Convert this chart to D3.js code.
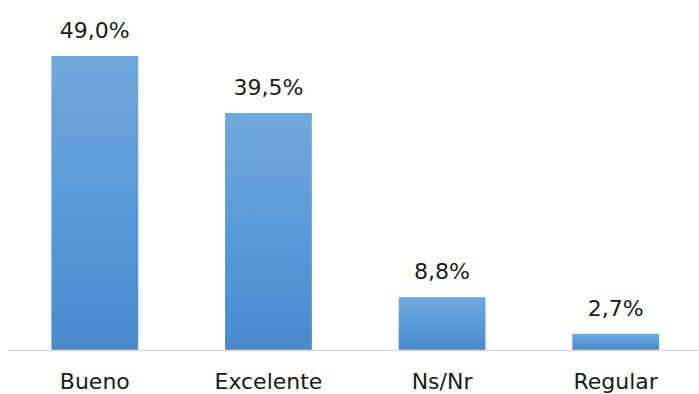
<!DOCTYPE html>
<html><head><meta charset="utf-8">
<script src="https://cdn.jsdelivr.net/npm/d3@7"></script>
<style>body{margin:0;background:#fff}svg{display:block}</style>
</head><body>
<svg id="c" width="699" height="394"></svg>
<script>
const categories = ["Bueno", "Excelente", "Ns/Nr", "Regular"];
const values = [49.0, 39.5, 8.8, 2.7];
const valueLabels = ["49,0%", "39,5%", "8,8%", "2,7%"];

const svg = d3.select("#c");
const font = "'DejaVu Sans', sans-serif";
const base = 350;
const x = d3.scaleBand().domain(categories).range([8, 702.5]).paddingInner(0.5).paddingOuter(0.25);
const y = d3.scaleLinear().domain([0, 49]).range([base, 56]);

const defs = svg.append("defs");
const g = defs.append("linearGradient").attr("id","bg").attr("x1",0).attr("y1",0).attr("x2",0).attr("y2",1);
g.append("stop").attr("offset","0%").attr("stop-color","#72a8dd");
g.append("stop").attr("offset","50%").attr("stop-color","#5a9ad9");
g.append("stop").attr("offset","100%").attr("stop-color","#4a8acd");

svg.selectAll("rect.bar").data(values).enter().append("rect")
  .attr("class","bar")
  .attr("x",(d,i)=>x(categories[i]))
  .attr("width",x.bandwidth())
  .attr("y",d=>y(d))
  .attr("height",d=>base-y(d))
  .attr("fill","url(#bg)");

svg.append("line").attr("x1",8).attr("x2",699).attr("y1",base+0.5).attr("y2",base+0.5)
  .attr("stroke","#d9d9d9").attr("stroke-width",1.5);

svg.selectAll("text.val").data(values).enter().append("text")
  .attr("class","val")
  .attr("x",(d,i)=>x(categories[i])+x.bandwidth()/2)
  .attr("y",d=>y(d)-18)
  .attr("text-anchor","middle")
  .attr("font-family",font).attr("font-weight",400).attr("font-size",22).attr("fill","#1a1a1a")
  .text((d,i)=>valueLabels[i]);

const xa = svg.append("g").attr("transform",`translate(0,${base})`)
  .call(d3.axisBottom(x).tickSize(0).tickPadding(0));
xa.select(".domain").remove();
xa.selectAll("text").attr("dy",null).attr("y",39)
  .attr("font-family",font).attr("font-weight",400).attr("font-size",22).attr("fill","#1a1a1a");
</script>
</body></html>
